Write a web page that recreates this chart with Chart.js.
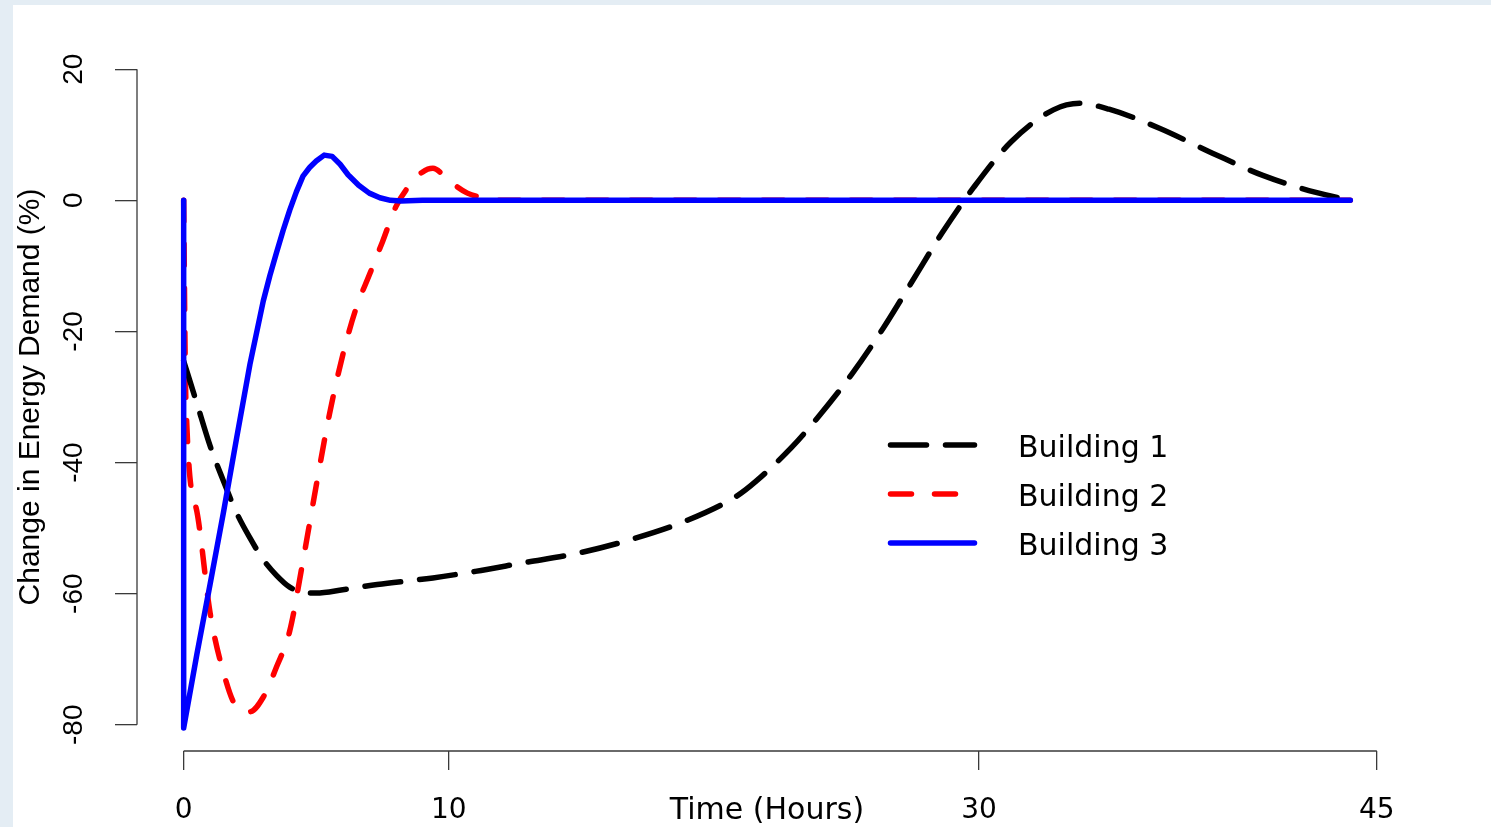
<!DOCTYPE html>
<html>
<head>
<meta charset="utf-8">
<script src="https://cdn.jsdelivr.net/npm/chart.js@4/dist/chart.umd.min.js"></script>
<style>
  html, body { margin: 0; padding: 0; background: #e4edf4; overflow: hidden; }
  #panel { position: absolute; left: 13px; top: 5px; right: 0; bottom: 0; background: #fff; }
  #chart { position: absolute; left: 0; top: 0; }
</style>
</head>
<body>
<div id="panel"></div>
<canvas id="chart" width="1491" height="827"></canvas>
<script>
// values (hours, % change)
const labels = ['Building 1', 'Building 2', 'Building 3'];
const hours1 = [0, 0.5, 1, 1.5, 2, 2.5, 3, 3.5, 4, 4.5, 5, 6, 7.3, 9.4, 11, 12.8, 14.9, 16.9, 19, 20.9, 21.6, 22.9, 23.9, 25.2, 26.4, 27.5, 28.6, 29.8, 31.2, 32.8, 33.8, 34.9, 36.8, 38.8, 40.7, 42.7, 44];
const demand1 = [-24.5, -31, -37.5, -42.8, -47.7, -51.5, -54.8, -57.2, -59, -59.8, -59.9, -59.4, -58.6, -57.6, -56.6, -55.3, -53.8, -51.7, -48.8, -45, -42.8, -37.8, -33.2, -26.5, -19.4, -12.2, -5, 2, 8.9, 13.8, 14.8, 13.9, 11, 7.2, 3.8, 1.2, 0];
const hours2 = [0, 0.08, 0.5, 1, 1.5, 2, 2.5, 3, 3.5, 4, 4.5, 5, 5.5, 6, 6.5, 7, 7.5, 8, 8.5, 9, 9.4, 10, 10.7, 11.4, 12, 44];
const demand2 = [0, -30, -47.5, -63, -72, -77.3, -78, -75.8, -71.2, -65.7, -55, -43.5, -32.6, -23.6, -16.5, -11.4, -6.3, -1, 2.2, 4.3, 4.9, 3, 1.1, 0.3, 0, 0];
const hours3 = [0, 0, 0.5, 1, 1.5, 2, 2.5, 3, 3.25, 3.5, 3.75, 4, 4.25, 4.5, 4.75, 5, 5.3, 5.6, 5.9, 6.2, 6.6, 7, 7.4, 7.8, 8.2, 9, 44];
const demand3 = [0, -80.5, -69.2, -58.5, -47.6, -36.2, -25, -15.4, -11.5, -8, -4.6, -1.5, 1.3, 3.7, 5, 6, 6.9, 6.7, 5.5, 3.9, 2.3, 1.1, 0.4, 0, -0.1, 0, 0];
const xTicks = [0, 10, 30, 45];
const yTicks = [-80, -60, -40, -20, 0, 20];

const pts = (xs, ys) => xs.map((x, i) => ({ x, y: ys[i] }));
const axisColor = '#3a3a3a';
const wideFont = '"DejaVu Sans", sans-serif';
const narrowFont = '"Liberation Sans", Arial, sans-serif';

const lineStyle = { borderWidth: 5.5, pointRadius: 0, borderCapStyle: 'round', borderJoinStyle: 'round', fill: false };
const datasets = [
  { ...lineStyle, label: labels[0], data: pts(hours1, demand1), borderColor: '#000000', borderDash: [36, 19], cubicInterpolationMode: 'monotone', order: 1 },
  { ...lineStyle, label: labels[1], data: pts(hours2, demand2), borderColor: '#ff0000', borderDash: [21, 23], cubicInterpolationMode: 'monotone', order: 2 },
  { ...lineStyle, label: labels[2], data: pts(hours3, demand3), borderColor: '#0000ff', tension: 0, order: 0 },
];

// R style axis lines: only from first to last tick
const axisLines = {
  id: 'axisLines',
  beforeDatasetsDraw(chart) {
    const { ctx, chartArea: a, scales: { x, y } } = chart;
    ctx.save();
    ctx.strokeStyle = axisColor; ctx.lineWidth = 1.3;
    ctx.beginPath();
    ctx.moveTo(x.getPixelForValue(xTicks[0]), a.bottom);
    ctx.lineTo(x.getPixelForValue(xTicks[xTicks.length - 1]), a.bottom);
    ctx.moveTo(a.left, y.getPixelForValue(yTicks[0]));
    ctx.lineTo(a.left, y.getPixelForValue(yTicks[yTicks.length - 1]));
    ctx.stroke();
    ctx.restore();
  }
};

const lineLegend = {
  id: 'lineLegend',
  afterDraw(chart) {
    const { ctx } = chart;
    ctx.save();
    chart.data.datasets.forEach((d, i) => {
      const y = 445 + i * 49;
      ctx.strokeStyle = d.borderColor; ctx.lineWidth = d.borderWidth; ctx.lineCap = 'round';
      ctx.setLineDash(d.borderDash || []);
      ctx.beginPath(); ctx.moveTo(890.5, y); ctx.lineTo(974.5, y); ctx.stroke();
      ctx.setLineDash([]);
      ctx.fillStyle = '#000'; ctx.font = '30px ' + wideFont; ctx.textBaseline = 'alphabetic'; ctx.textAlign = 'left';
      ctx.fillText(d.label, 1018, y + 11.5);
    });
    ctx.restore();
  }
};

new Chart(document.getElementById('chart'), {
  type: 'line',
  data: { datasets },
  plugins: [axisLines, lineLegend],
  options: {
    responsive: false, animation: false, devicePixelRatio: 1,
    layout: { padding: { top: 43, right: 94, left: 0, bottom: 0 } },
    plugins: { legend: { display: false }, tooltip: { enabled: false } },
    scales: {
      x: {
        type: 'linear', min: -1.76, max: 45.76,
        afterFit: s => { s.height = 76; },
        afterBuildTicks: s => { s.ticks = xTicks.map(v => ({ value: v })); },
        border: { display: false },
        grid: { drawOnChartArea: false, drawTicks: true, tickLength: 19, color: axisColor, lineWidth: 1.3 },
        ticks: { autoSkip: false, maxRotation: 0, padding: 24, color: '#000', font: { family: wideFont, size: 28 }, callback: v => String(v) },
        title: { display: true, text: 'Time (Hours)', color: '#000', font: { family: wideFont, size: 30 }, padding: { top: 0, bottom: -2 } }
      },
      y: {
        type: 'linear', min: -84, max: 24,
        afterFit: s => { s.width = 137; },
        afterBuildTicks: s => { s.ticks = yTicks.map(v => ({ value: v })); },
        border: { display: false },
        grid: { drawOnChartArea: false, drawTicks: true, tickLength: 22, color: axisColor, lineWidth: 1.3 },
        ticks: { minRotation: 90, maxRotation: 90, crossAlign: 'center', padding: 20, color: '#000', font: { family: narrowFont, size: 28 }, callback: v => String(v) },
        title: { display: true, text: 'Change in Energy Demand (%)', color: '#000', font: { family: narrowFont, size: 30 }, padding: { top: 13, bottom: 0 } }
      }
    }
  }
});
</script>
</body>
</html>
